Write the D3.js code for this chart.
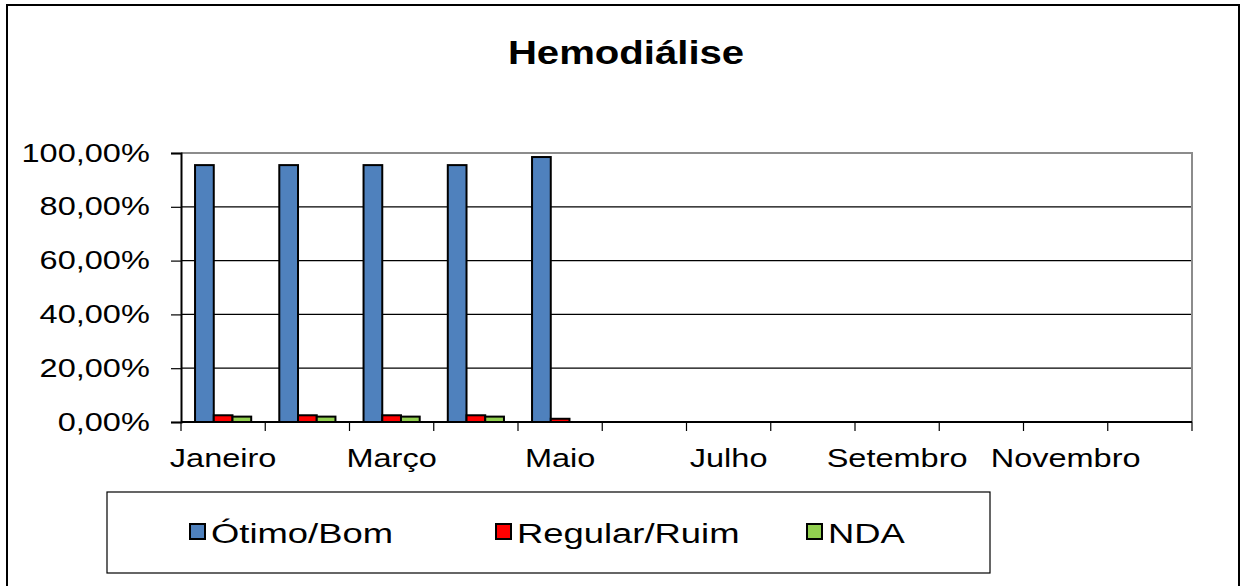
<!doctype html>
<html>
<head>
<meta charset="utf-8">
<title>Hemodiálise</title>
<script src="https://cdn.jsdelivr.net/npm/d3@7"></script>
<style>
  body { margin: 0; background: #fff; }
  svg text { font-family: "Liberation Sans", Arial, sans-serif; fill: #000; }
</style>
</head>
<body>
<svg id="chart" width="1245" height="586"></svg>
<script>
// data
var months = ["Janeiro", "Fevereiro", "Março", "Abril", "Maio", "Junho",
              "Julho", "Agosto", "Setembro", "Outubro", "Novembro", "Dezembro"];
var shownMonths = ["Janeiro", "Março", "Maio", "Julho", "Setembro", "Novembro"];
var seriesNames = ["Ótimo/Bom", "Regular/Ruim", "NDA"];
var otimoBom = [95.5, 95.5, 95.5, 95.5, 98.5];
var regularRuim = [2.5, 2.5, 2.5, 2.5, 1.2];
var nda = [2.0, 2.0, 2.0, 2.0, 0];
var yTicks = [0, 20, 40, 60, 80, 100];

var colors = ["#4F81BD", "#FF0000", "#92D050"];
var values = [otimoBom, regularRuim, nda];
var sx = 1.3; // text in the original is stretched sideways

var svg = d3.select("#chart");
var plot = { left: 181, right: 1192, top: 153, bottom: 422 };

// outer frame
svg.append("rect")
    .attr("x", 7).attr("y", 5)
    .attr("width", 1232).attr("height", 600)
    .attr("fill", "none").attr("stroke", "#000").attr("stroke-width", 2);

// title
svg.append("text")
    .attr("transform", "translate(626,64) scale(1.18,1)")
    .attr("text-anchor", "middle")
    .style("font-size", "34px").style("font-weight", "bold")
    .text("Hemodiálise");

var x = d3.scaleBand().domain(months).range([plot.left, plot.right]).paddingInner(0).paddingOuter(0);
var y = d3.scaleLinear().domain([0, 100]).range([plot.bottom, plot.top]);

var barW = x.bandwidth() / 4.5;
var gapHalf = barW * 0.75;

// gridlines
svg.append("g").selectAll("line")
    .data(yTicks.filter(function(d){ return d > 0 && d < 100; }))
    .join("line")
    .attr("x1", plot.left).attr("x2", plot.right)
    .attr("y1", function(d){ return y(d); }).attr("y2", function(d){ return y(d); })
    .attr("stroke", "#000").attr("stroke-width", 1.2);

// plot area border (top and right are grey)
svg.append("path")
    .attr("d", "M" + plot.left + "," + y(100) + "H" + plot.right + "V" + plot.bottom)
    .attr("fill", "none").attr("stroke", "#8c8c8c").attr("stroke-width", 2);

// bars
values.forEach(function(vals, s) {
    svg.append("g").selectAll("rect")
        .data(vals)
        .join("rect")
        .attr("x", function(d, i){ return x(months[i]) + gapHalf + s * barW; })
        .attr("y", function(d){ return y(d); })
        .attr("width", barW)
        .attr("height", function(d){ return y(0) - y(d); })
        .attr("fill", colors[s])
        .attr("stroke", "#000").attr("stroke-width", 2);
});

// y axis
var yAxis = svg.append("g")
    .attr("transform", "translate(" + plot.left + ",0)")
    .call(d3.axisLeft(y).tickValues(yTicks).tickSize(10).tickPadding(14)
        .tickFormat(function(d){ return d.toFixed(2).replace(".", ",") + "%"; }));
yAxis.select(".domain").attr("stroke", "#000").attr("stroke-width", 2);
yAxis.selectAll(".tick line").attr("stroke", "#000").attr("stroke-width", 1.2);
yAxis.selectAll("text")
    .attr("transform", "scale(" + sx + ",1)")
    .style("font-size", "25px").style("font-family", "Liberation Sans, Arial, sans-serif");

// x axis: labels every other month, ticks on the category boundaries
var xAxis = svg.append("g")
    .attr("transform", "translate(0," + plot.bottom + ")")
    .call(d3.axisBottom(x).tickValues(shownMonths).tickSize(0).tickPadding(27));
xAxis.select(".domain").remove();
xAxis.selectAll("text")
    .attr("transform", "scale(" + sx + ",1)")
    .style("font-size", "25px").style("font-family", "Liberation Sans, Arial, sans-serif");

var bounds = months.map(function(m){ return x(m); }).concat([plot.right]);
svg.append("line")
    .attr("x1", plot.left).attr("x2", plot.right)
    .attr("y1", plot.bottom).attr("y2", plot.bottom)
    .attr("stroke", "#000").attr("stroke-width", 2);
svg.append("g").selectAll("line")
    .data(bounds)
    .join("line")
    .attr("x1", function(d){ return d; }).attr("x2", function(d){ return d; })
    .attr("y1", plot.bottom).attr("y2", plot.bottom + 9)
    .attr("stroke", "#000").attr("stroke-width", 1.2);

// legend
svg.append("rect")
    .attr("x", 107).attr("y", 492)
    .attr("width", 883).attr("height", 81)
    .attr("fill", "none").attr("stroke", "#000").attr("stroke-width", 1.2);

var legendX = [190, 496, 807];
var legend = svg.append("g").selectAll("g")
    .data(seriesNames)
    .join("g")
    .attr("transform", function(d, i){ return "translate(" + legendX[i] + ",524)"; });
legend.append("rect")
    .attr("width", 15).attr("height", 15)
    .attr("fill", function(d, i){ return colors[i]; })
    .attr("stroke", "#000").attr("stroke-width", 2);
legend.append("text")
    .attr("transform", "translate(21,19) scale(1.3,1)")
    .style("font-size", "28px")
    .text(function(d){ return d; });
</script>
</body>
</html>
